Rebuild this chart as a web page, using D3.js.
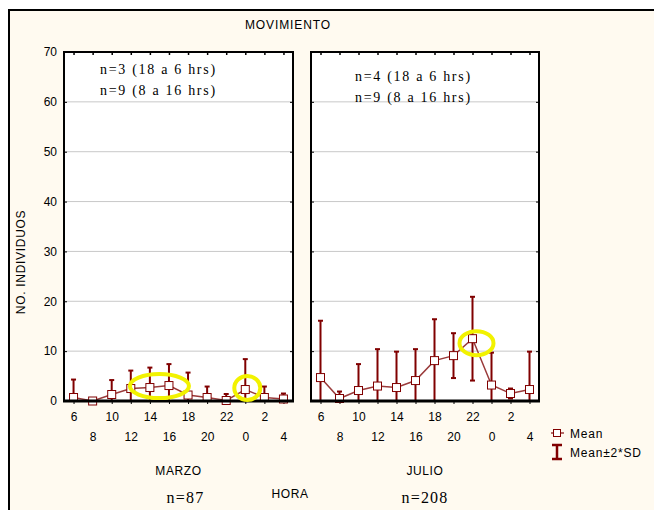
<!DOCTYPE html>
<html>
<head>
<meta charset="utf-8">
<script src="https://cdn.jsdelivr.net/npm/d3@7"></script>
<style>
  body { margin: 0; background: #fff; }
  text { font-family: "Liberation Sans", Arial, sans-serif; fill: #000; }
  .serif { font-family: "Liberation Serif", "Times New Roman", serif; }
</style>
</head>
<body>
<div id="chart"></div>
<script>
// hours along the x axis (same for both panels)
const hours = ['6', '8', '10', '12', '14', '16', '18', '20', '22', '0', '2', '4'];
const yTicks = [0, 10, 20, 30, 40, 50, 60, 70];

// MARZO: mean and mean+2*SD
const marzoMean  = [0.7, 0.0, 1.3, 2.5, 2.7, 3.1, 1.2, 0.7, 0.1, 2.3, 0.7, 0.4];
const marzoUpper = [4.3, 0.0, 4.2, 6.1, 6.7, 7.4, 5.7, 2.9, 1.4, 8.4, 2.9, 1.5];

// JULIO: mean and mean+2*SD
const julioMean  = [4.7, 0.5, 2.1, 3.0, 2.7, 4.1, 8.1, 9.1, 12.5, 3.2, 1.5, 2.3];
const julioUpper = [16.1, 1.9, 7.4, 10.4, 9.9, 10.4, 16.4, 13.6, 20.9, 9.7, 2.5, 9.9];

const panelNames = ['MARZO', 'JULIO'];
const panelN = ['n=87', 'n=208'];
const panelNotes = [
  ['n=3 (18 a 6 hrs)', 'n=9 (8 a 16 hrs)'],
  ['n=4 (18 a 6 hrs)', 'n=9 (8 a 16 hrs)']
];
// yellow highlight rings: [panel, hour from, hour to, value]
const highlights = [
  [0, '14', '16', 3.0],
  [0, '0', '0', 2.6],
  [1, '22', '22', 11.6]
];

const config = {
  width: 654, height: 510,
  top: 52, bottom: 401,
  panels: [[64, 293], [311, 539]],
  dark: '#800000', line: '#9a3b3b', bg: '#fffaf0'
};

const svg = d3.select('#chart').append('svg')
  .attr('width', config.width)
  .attr('height', config.height);

// outer frame
svg.append('rect')
  .attr('x', 9).attr('y', 10)
  .attr('width', 700).attr('height', 600)
  .attr('fill', config.bg)
  .attr('stroke', '#000')
  .attr('stroke-width', 2);

const y = d3.scaleLinear().domain([0, 70]).range([config.bottom, config.top]).clamp(true);

const series = [
  { mean: marzoMean, upper: marzoUpper },
  { mean: julioMean, upper: julioUpper }
];

series.forEach((s, p) => {
  const [x0, x1] = config.panels[p];
  const x = d3.scalePoint().domain(hours).range([x0, x1]).padding(0.5);
  const g = svg.append('g');

  g.append('rect')
    .attr('x', x0).attr('y', config.top)
    .attr('width', x1 - x0).attr('height', config.bottom - config.top)
    .attr('fill', '#fff');

  // grid
  g.selectAll('.grid')
    .data(yTicks.slice(1, -1))
    .join('line')
    .attr('class', 'grid')
    .attr('x1', x0).attr('x2', x1)
    .attr('y1', d => y(d)).attr('y2', d => y(d))
    .attr('stroke', '#c8c8c8')
    .attr('stroke-width', 1);

  // left axis with inward ticks
  const axisL = d3.axisLeft(y).tickValues(yTicks).tickSize(-3).tickPadding(7)
    .tickFormat(p === 0 ? d3.format('d') : '');
  g.append('g').attr('transform', `translate(${x0},0)`).call(axisL)
    .call(a => a.select('.domain').remove())
    .call(a => a.selectAll('text').style('font-size', '12px').attr('font-family', null));

  // right axis ticks
  g.append('g').attr('transform', `translate(${x1},0)`)
    .call(d3.axisRight(y).tickValues(yTicks).tickSize(-3).tickFormat(''))
    .call(a => a.select('.domain').remove());

  // top ticks
  g.append('g').attr('transform', `translate(0,${config.top})`)
    .call(d3.axisTop(x).tickSize(-3).tickFormat(''))
    .call(a => a.select('.domain').remove())
    .call(a => a.selectAll('line').attr('stroke-width', 1.5));

  // bottom hour labels, staggered on two rows
  g.append('g').attr('transform', `translate(0,${config.bottom})`)
    .call(d3.axisBottom(x).tickSize(3).tickPadding(0))
    .call(a => a.select('.domain').remove())
    .call(a => a.selectAll('text')
      .attr('font-family', null)
      .style('font-size', '12px')
      .attr('dy', null)
      .attr('y', (d, i) => i % 2 === 0 ? 20 : 40));

  // error bars
  const bars = hours.map((h, i) => ({
    h, mean: s.mean[i], upper: s.upper[i], lower: 2 * s.mean[i] - s.upper[i]
  }));
  const eb = g.selectAll('.eb').data(bars).join('g').attr('class', 'eb');
  eb.append('line')
    .attr('x1', d => x(d.h)).attr('x2', d => x(d.h))
    .attr('y1', d => y(d.upper)).attr('y2', d => y(d.lower))
    .attr('stroke', config.dark).attr('stroke-width', 2);
  eb.append('line')
    .attr('x1', d => x(d.h) - 2.5).attr('x2', d => x(d.h) + 2.5)
    .attr('y1', d => y(d.upper)).attr('y2', d => y(d.upper))
    .attr('stroke', config.dark).attr('stroke-width', 2);
  eb.filter(d => d.lower > 0).append('line')
    .attr('x1', d => x(d.h) - 2.5).attr('x2', d => x(d.h) + 2.5)
    .attr('y1', d => y(d.lower)).attr('y2', d => y(d.lower))
    .attr('stroke', config.dark).attr('stroke-width', 2);

  // mean line
  const line = d3.line().x(d => x(d.h)).y(d => y(d.mean));
  g.append('path')
    .attr('d', line(bars))
    .attr('fill', 'none')
    .attr('stroke', config.line)
    .attr('stroke-width', 1.5);

  g.selectAll('.pt').data(bars).join('rect')
    .attr('class', 'pt')
    .attr('x', d => x(d.h) - 4).attr('y', d => y(d.mean) - 4)
    .attr('width', 8).attr('height', 8)
    .attr('fill', '#fff')
    .attr('stroke', config.dark)
    .attr('stroke-width', 1);

  // panel frame
  g.append('path')
    .attr('d', `M${x0},${config.bottom}V${config.top}H${x1}V${config.bottom}`)
    .attr('fill', 'none').attr('stroke', '#000').attr('stroke-width', 2);
  g.append('line')
    .attr('x1', x0 - 1).attr('x2', x1 + 1)
    .attr('y1', config.bottom).attr('y2', config.bottom)
    .attr('stroke', '#000').attr('stroke-width', 3);

  // highlight rings
  highlights.filter(d => d[0] === p).forEach(d => {
    const cx = (x(d[1]) + x(d[2])) / 2;
    const span = x(d[2]) - x(d[1]);
    g.append('ellipse')
      .attr('cx', cx + (span ? 0 : p === 1 ? 4 : 2)).attr('cy', y(d[3]))
      .attr('rx', span ? span / 2 + 20 : (p === 1 ? 17 : 13))
      .attr('ry', 12)
      .attr('fill', 'none')
      .attr('stroke', '#f2f200')
      .attr('stroke-width', 4);
  });

  // notes inside panel
  g.selectAll('.note').data(panelNotes[p]).join('text')
    .attr('class', 'note serif')
    .attr('x', p === 0 ? 100 : 355)
    .attr('y', (d, i) => (p === 0 ? 74 : 81) + i * 21)
    .style('font-size', '14px')
    .style('letter-spacing', '1.7px')
    .text(d => d);

  // panel captions
  svg.append('text')
    .attr('x', (x0 + x1) / 2).attr('y', 475)
    .attr('text-anchor', 'middle')
    .style('font-size', '12px')
    .style('letter-spacing', '0.6px')
    .text(panelNames[p]);
  svg.append('text')
    .attr('class', 'serif')
    .attr('x', (x0 + x1) / 2 + (p === 0 ? 7 : 0)).attr('y', 503)
    .attr('text-anchor', 'middle')
    .style('font-size', '16px')
    .style('letter-spacing', '1.2px')
    .text(panelN[p]);
});

// title and axis titles
svg.append('text')
  .attr('x', 288).attr('y', 29)
  .attr('text-anchor', 'middle')
  .style('font-size', '12px')
  .style('letter-spacing', '0.9px')
  .text('MOVIMIENTO');

svg.append('text')
  .attr('x', 290).attr('y', 498)
  .attr('text-anchor', 'middle')
  .style('font-size', '12px')
  .style('letter-spacing', '0.6px')
  .text('HORA');

svg.append('text')
  .attr('transform', 'translate(25,262) rotate(-90)')
  .attr('text-anchor', 'middle')
  .style('font-size', '12px')
  .style('letter-spacing', '0.7px')
  .text('NO. INDIVIDUOS');

// legend
const legend = svg.append('g').attr('transform', 'translate(557,433)');
legend.append('line').attr('x1', -6).attr('x2', 7).attr('y1', 0).attr('y2', 0)
  .attr('stroke', config.line).attr('stroke-width', 1.5);
legend.append('rect').attr('x', -3.5).attr('y', -3.5).attr('width', 7).attr('height', 7)
  .attr('fill', '#fff').attr('stroke', config.dark);
legend.append('text').attr('x', 13).attr('y', 5)
  .style('font-size', '12px').style('letter-spacing', '0.8px').text('Mean');
legend.append('path')
  .attr('d', 'M-5,12H5M0,12V26M-5,26H5')
  .attr('stroke', config.dark).attr('stroke-width', 2.5).attr('fill', 'none');
legend.append('text').attr('x', 13).attr('y', 24)
  .style('font-size', '12px').style('letter-spacing', '0.8px').text('Mean±2*SD');
</script>
</body>
</html>
